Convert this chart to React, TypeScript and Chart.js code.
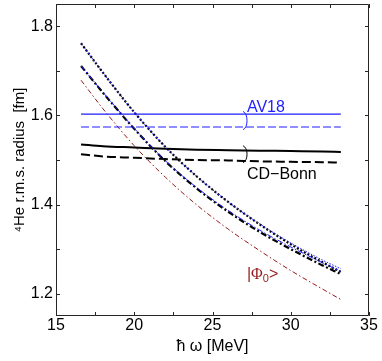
import { useEffect, useRef } from 'react';
import { Chart, registerables } from 'chart.js';

Chart.register(...registerables);

// hbar*omega [MeV]
const omega = [16.6, 18, 20, 22, 24, 26, 28, 30, 32, 33.2];

// AV18 (blue)
const av18Solid = [1.603, 1.603, 1.603, 1.603, 1.603, 1.603, 1.603, 1.603, 1.603, 1.603];
const av18Dashed = [1.574, 1.574, 1.574, 1.574, 1.574, 1.574, 1.574, 1.574, 1.574, 1.574];
const av18Dotted = [1.762, 1.696, 1.607, 1.529, 1.463, 1.406, 1.357, 1.314, 1.276, 1.256];
const av18DashDot = [1.711, 1.652, 1.571, 1.498, 1.438, 1.387, 1.343, 1.305, 1.270, 1.250];

// CD-Bonn (black)
const cdSolid = [1.535, 1.531, 1.528, 1.525, 1.523, 1.522, 1.521, 1.520, 1.519, 1.518];
const cdDashed = [1.513, 1.508, 1.505, 1.502, 1.500, 1.499, 1.497, 1.496, 1.495, 1.494];
const cdDotted = [1.762, 1.696, 1.607, 1.529, 1.463, 1.406, 1.356, 1.311, 1.271, 1.249];
const cdDashDot = [1.711, 1.651, 1.570, 1.497, 1.436, 1.384, 1.339, 1.300, 1.264, 1.244];

// |Phi_0> (brown)
const phi0 = [1.679, 1.615, 1.532, 1.461, 1.399, 1.345, 1.297, 1.252, 1.211, 1.187];

const xTicks = [15, 17.5, 20, 22.5, 25, 27.5, 30, 32.5, 35];
const xLabeled = [15, 20, 25, 30, 35];
const yTicks = [1.2, 1.3, 1.4, 1.5, 1.6, 1.7, 1.8];
const yLabeled = [1.2, 1.4, 1.6, 1.8];

const BLUE = 'rgb(30,30,255)';
const BLACK = '#000000';
const BROWN = 'rgb(150,25,25)';
const FONT = '"Liberation Sans", Arial, Helvetica, sans-serif';

const pts = (ys: number[]) => omega.map((x, i) => ({ x, y: ys[i] }));

const framePlugin = {
  id: 'frame',
  afterDraw(chart: any) {
    const { ctx, chartArea: a, scales } = chart;
    const xs = scales.x;
    const ys = scales.y;
    ctx.save();
    ctx.strokeStyle = '#262626';
    ctx.lineWidth = 1;
    ctx.beginPath();
    ctx.rect(a.left + 0.5, a.top + 0.5, a.right - a.left - 1, a.bottom - a.top - 1);
    ctx.stroke();
    const tl = 4;
    ctx.beginPath();
    xTicks.forEach((v) => {
      const px = Math.round(xs.getPixelForValue(v)) + 0.5;
      ctx.moveTo(px, a.bottom);
      ctx.lineTo(px, a.bottom - tl);
      ctx.moveTo(px, a.top);
      ctx.lineTo(px, a.top + tl);
    });
    yTicks.forEach((v) => {
      const py = Math.round(ys.getPixelForValue(v)) + 0.5;
      ctx.moveTo(a.left, py);
      ctx.lineTo(a.left + tl, py);
      ctx.moveTo(a.right, py);
      ctx.lineTo(a.right - tl, py);
    });
    ctx.stroke();

    // annotations
    const bx = xs.getPixelForValue(26.95);
    const brace = (yTop: number, yBot: number, color: string) => {
      const t = ys.getPixelForValue(yTop);
      const b = ys.getPixelForValue(yBot);
      const m = (t + b) / 2;
      ctx.strokeStyle = color;
      ctx.lineWidth = 1;
      ctx.beginPath();
      ctx.moveTo(bx, t);
      ctx.quadraticCurveTo(bx + 4, t + 2, bx + 4, m);
      ctx.quadraticCurveTo(bx + 4, b - 2, bx, b);
      ctx.stroke();
    };
    brace(1.609, 1.568, BLUE);
    brace(1.532, 1.494, BLACK);

    ctx.textBaseline = 'alphabetic';
    ctx.textAlign = 'left';
    ctx.font = `16px ${FONT}`;
    const tx = xs.getPixelForValue(27.2);
    ctx.fillStyle = BLUE;
    ctx.fillText('AV18', tx, ys.getPixelForValue(1.607));
    ctx.fillStyle = BLACK;
    ctx.fillText('CD\u2212Bonn', tx, ys.getPixelForValue(1.458));

    ctx.fillStyle = BROWN;
    let px = tx;
    const py = ys.getPixelForValue(1.234);
    ctx.font = `16px ${FONT}`;
    ctx.fillText('|', px, py);
    px += ctx.measureText('|').width;
    ctx.font = `16px "Liberation Serif", "Times New Roman", serif`;
    ctx.fillText('\u03A6', px, py);
    px += ctx.measureText('\u03A6').width;
    ctx.font = `11px ${FONT}`;
    ctx.fillText('0', px, py + 3);
    px += ctx.measureText('0').width;
    ctx.font = `16px ${FONT}`;
    ctx.fillText('>', px, py);
    ctx.restore();
  },
};

export default function App() {
  const ref = useRef<HTMLCanvasElement | null>(null);

  useEffect(() => {
    if (!ref.current) return;
    const common = { pointRadius: 0, fill: false, cubicInterpolationMode: 'monotone' as const };
    const chart = new Chart(ref.current, {
      type: 'line',
      data: {
        datasets: [
          { ...common, data: pts(av18Dotted), borderColor: BLUE, borderWidth: 1, borderDash: [1.5, 1.5] },
          { ...common, data: pts(av18DashDot), borderColor: BLUE, borderWidth: 1, borderDash: [6, 2, 1.5, 2] },
          { ...common, data: pts(av18Solid), borderColor: BLUE, borderWidth: 1.2 },
          { ...common, data: pts(av18Dashed), borderColor: BLUE, borderWidth: 1.2, borderDash: [8, 3] },
          { ...common, data: pts(cdDotted), borderColor: BLACK, borderWidth: 2.2, borderDash: [2, 2] },
          { ...common, data: pts(cdDashDot), borderColor: BLACK, borderWidth: 2.2, borderDash: [6, 2.5, 2, 2.5] },
          { ...common, data: pts(cdSolid), borderColor: BLACK, borderWidth: 2 },
          { ...common, data: pts(cdDashed), borderColor: BLACK, borderWidth: 2, borderDash: [9, 4] },
          { ...common, data: pts(phi0), borderColor: BROWN, borderWidth: 1, borderDash: [5, 2.5, 1.5, 2.5] },
        ],
      },
      options: {
        animation: false,
        responsive: false,
        maintainAspectRatio: false,
        devicePixelRatio: 1,
        layout: { padding: { top: 4, right: 13, left: 0, bottom: 0 } },
        plugins: { legend: { display: false }, tooltip: { enabled: false } },
        scales: {
          x: {
            type: 'linear',
            min: 15,
            max: 35,
            grid: { display: false, drawTicks: false },
            border: { display: false },
            afterBuildTicks: (s: any) => {
              s.ticks = xTicks.map((v) => ({ value: v }));
            },
            afterFit: (s: any) => {
              s.height = 45;
              s.paddingLeft = 0;
              s.paddingRight = 0;
            },
            ticks: {
              autoSkip: false,
              maxRotation: 0,
              padding: 0,
              color: '#000',
              font: { family: FONT, size: 16 },
              callback: (v: any) => (xLabeled.includes(Number(v)) ? String(v) : ''),
            },
            title: {
              display: true,
              text: '\u0127 \u03C9 [MeV]',
              color: '#000',
              font: { family: FONT, size: 16 },
              padding: { top: 0, bottom: 5 },
            },
          },
          y: {
            type: 'linear',
            min: 1.15,
            max: 1.85,
            grid: { display: false, drawTicks: false },
            border: { display: false },
            afterBuildTicks: (s: any) => {
              s.ticks = yTicks.map((v) => ({ value: v }));
            },
            afterFit: (s: any) => {
              s.width = 56;
              s.paddingTop = 0;
              s.paddingBottom = 0;
            },
            ticks: {
              autoSkip: false,
              padding: 3,
              color: '#000',
              font: { family: FONT, size: 16 },
              callback: (v: any) => {
                const n = Math.round(Number(v) * 10) / 10;
                return yLabeled.some((l) => Math.abs(l - n) < 1e-6) ? n.toFixed(1) : '';
              },
            },
            title: {
              display: true,
              text: '\u2074He r.m.s. radius  [fm]',
              color: '#000',
              font: { family: FONT, size: 15 },
              padding: { top: 11, bottom: 0 },
            },
          },
        },
      },
      plugins: [framePlugin],
    });
    return () => chart.destroy();
  }, []);

  return (
    <div style={{ position: 'absolute', left: 0, top: 0, width: 382, height: 361 }}>
      <canvas ref={ref} width={382} height={361} />
    </div>
  );
}
